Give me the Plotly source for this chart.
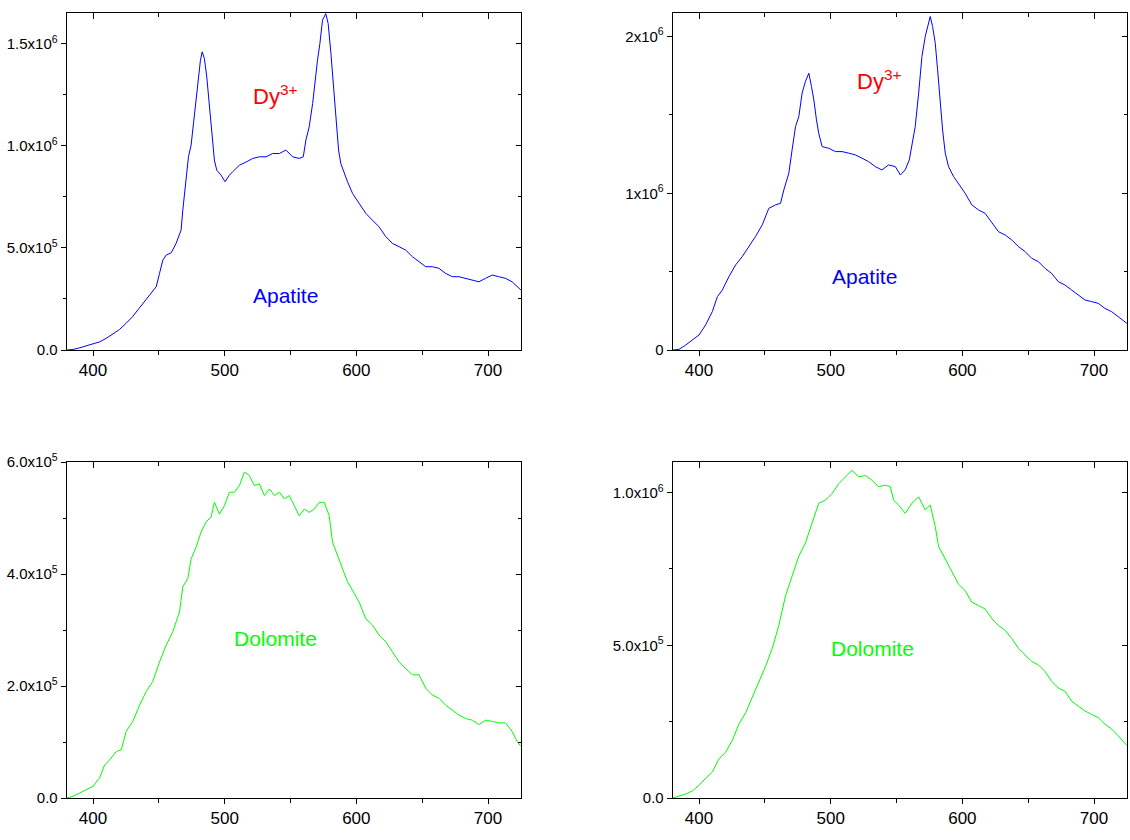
import plotly.graph_objects as go

FONT = "Liberation Sans, Arial, sans-serif"

# ---------------- data ----------------
# Top-left: Apatite, sample 1
apatite1_nm = [380, 385, 390, 395, 400, 405, 410, 415, 420, 425,
               430, 435, 440, 445, 448, 450.5, 453, 455.6, 459.4, 463.1,
               466.9, 468.2, 470.7, 472.5, 474.5, 476.5, 478.3, 480.1, 481.6, 482.9,
               484.6, 486.4, 488.4, 490.2, 492.2, 494, 497.3, 500.3, 503.6, 506.1,
               511.2, 516.2, 521.3, 526.3, 531.4, 536.4, 541.5, 546.5, 551.6, 556.6,
               559.7, 561.7, 564.2, 566.8, 568.8, 570.5, 572.3, 574.3, 576.8, 578.6,
               580.7, 582.4, 584.4, 586.5, 588.2, 590.8, 593.3, 597.1, 602.1, 607.2,
               612.2, 617.3, 622.4, 627.4, 632.5, 637.5, 642.6, 647.6, 652.7, 657.7,
               662.8, 667.8, 672.9, 677.9, 683, 688, 693.1, 698.1, 703.2, 708.2,
               713.3, 718.3, 722.1, 725]
apatite1_int = [0, 3e3, 1.1e4, 2.0e4, 2.8e4, 4.0e4, 5.7e4, 7.8e4, 1.0e5, 1.3e5,
                1.63e5, 2.04e5, 2.45e5, 2.85e5, 3.1e5, 3.75e5, 4.4e5, 4.65e5, 4.76e5, 5.22e5,
                5.87e5, 6.85e5, 8.48e5, 9.46e5, 1.003e6, 1.125e6, 1.207e6, 1.337e6, 1.419e6, 1.46e6,
                1.427e6, 1.337e6, 1.19e6, 1.044e6, 9.3e5, 8.8e5, 8.56e5, 8.24e5, 8.56e5, 8.73e5,
                9.05e5, 9.2e5, 9.38e5, 9.46e5, 9.46e5, 9.62e5, 9.62e5, 9.79e5, 9.46e5, 9.38e5,
                9.46e5, 1.028e6, 1.093e6, 1.207e6, 1.337e6, 1.419e6, 1.5e6, 1.615e6, 1.647e6, 1.598e6,
                1.452e6, 1.305e6, 1.142e6, 9.79e5, 9.13e5, 8.64e5, 8.24e5, 7.67e5, 7.18e5, 6.69e5,
                6.36e5, 6.03e5, 5.55e5, 5.22e5, 5.06e5, 4.89e5, 4.57e5, 4.32e5, 4.08e5, 4.08e5,
                4.0e5, 3.75e5, 3.59e5, 3.59e5, 3.51e5, 3.42e5, 3.34e5, 3.51e5, 3.67e5, 3.59e5,
                3.51e5, 3.34e5, 3.1e5, 2.94e5]

# Top-right: Apatite, sample 2
apatite2_nm = [380, 384.8, 389.9, 394.9, 400, 405, 410.1, 413.9, 417.7, 422.7,
               427.8, 432.8, 437.9, 442.9, 448, 453, 458.1, 461.9, 464.4, 468.2,
               470.7, 473.3, 475.8, 478.3, 480.8, 483.4, 485.4, 487.2, 489.2, 490.9,
               493.5, 498.5, 503.6, 508.6, 513.7, 518.7, 523.8, 528.8, 533.9, 538.9,
               544, 549.1, 552.9, 556.6, 559.7, 561.7, 564.2, 566.8, 569.3, 571.8,
               573.8, 575.6, 577.4, 579.4, 581.2, 583.2, 585, 587, 589.5, 593.3,
               597.1, 602.1, 607.2, 612.2, 617.3, 622.4, 627.4, 632.5, 637.5, 642.6,
               647.6, 652.7, 657.7, 662.8, 667.8, 672.9, 677.9, 683, 688, 693.1,
               698.1, 703.2, 708.2, 713.3, 718.3, 725]
apatite2_int = [0, 4e3, 3.2e4, 6.4e4, 9.6e4, 1.6e5, 2.45e5, 3.4e5, 3.83e5, 4.68e5,
                5.43e5, 5.96e5, 6.6e5, 7.24e5, 7.98e5, 9.04e5, 9.26e5, 9.36e5, 1.021e6, 1.128e6,
                1.277e6, 1.426e6, 1.49e6, 1.639e6, 1.713e6, 1.766e6, 1.681e6, 1.596e6, 1.468e6, 1.383e6,
                1.298e6, 1.287e6, 1.266e6, 1.266e6, 1.256e6, 1.245e6, 1.224e6, 1.202e6, 1.17e6, 1.149e6,
                1.181e6, 1.17e6, 1.117e6, 1.149e6, 1.213e6, 1.319e6, 1.426e6, 1.639e6, 1.873e6, 2.0e6,
                2.064e6, 2.128e6, 2.064e6, 1.958e6, 1.788e6, 1.575e6, 1.404e6, 1.256e6, 1.17e6, 1.107e6,
                1.064e6, 1.0e6, 9.26e5, 8.94e5, 8.72e5, 8.09e5, 7.55e5, 7.34e5, 7.02e5, 6.6e5,
                6.28e5, 5.85e5, 5.64e5, 5.21e5, 4.89e5, 4.36e5, 4.15e5, 3.83e5, 3.51e5, 3.19e5,
                3.09e5, 2.98e5, 2.66e5, 2.45e5, 2.13e5, 1.7e5]

# Bottom-left: Dolomite, sample 1
dolomite1_nm = [380, 384.8, 389.9, 394.9, 400, 405, 408.8, 412.6, 417.7, 421.5,
                425.2, 430.3, 435.4, 440.4, 445.4, 450.5, 455.6, 460.6, 465.7, 468.2,
                472, 474.5, 478.3, 482.1, 485.9, 489.7, 492.2, 496, 499.8, 503.6,
                507.4, 511.2, 515, 518.7, 522.5, 526.3, 530.2, 534, 537.8, 541.6,
                545.4, 549.1, 552.9, 556.6, 560.5, 564.2, 568.1, 571.8, 575.6, 579.4,
                581.9, 585.7, 589.5, 593.3, 597.1, 602.1, 607.2, 612.2, 617.3, 622.4,
                627.4, 632.5, 637.5, 642.6, 647.6, 652.7, 657.7, 662.8, 667.8, 672.9,
                677.9, 683, 688, 693.1, 698.1, 703.2, 708.2, 713.3, 718.3, 722.1,
                725]
dolomite1_int = [0, 3e3, 9e3, 1.5e4, 2.1e4, 3.6e4, 5.9e4, 6.8e4, 8.3e4, 8.6e4,
                 1.19e5, 1.37e5, 1.66e5, 1.9e5, 2.08e5, 2.43e5, 2.73e5, 2.97e5, 3.32e5, 3.77e5,
                 3.92e5, 4.27e5, 4.48e5, 4.75e5, 4.93e5, 5.02e5, 5.28e5, 5.07e5, 5.22e5, 5.46e5,
                 5.46e5, 5.58e5, 5.82e5, 5.76e5, 5.58e5, 5.61e5, 5.4e5, 5.52e5, 5.4e5, 5.46e5,
                 5.34e5, 5.4e5, 5.22e5, 5.04e5, 5.16e5, 5.1e5, 5.16e5, 5.28e5, 5.28e5, 5.04e5,
                 4.57e5, 4.33e5, 4.1e5, 3.86e5, 3.71e5, 3.5e5, 3.2e5, 3.09e5, 2.91e5, 2.79e5,
                 2.61e5, 2.43e5, 2.31e5, 2.2e5, 2.2e5, 1.96e5, 1.84e5, 1.78e5, 1.66e5, 1.57e5,
                 1.48e5, 1.42e5, 1.39e5, 1.31e5, 1.39e5, 1.37e5, 1.34e5, 1.34e5, 1.19e5, 1.01e5,
                 9.2e4]

# Bottom-right: Dolomite, sample 2
dolomite2_nm = [380, 384.8, 389.9, 394.9, 400, 405, 410.1, 415.1, 420.2, 425.2,
                430.3, 435.4, 440.4, 445.4, 450.5, 455.6, 460.6, 465.7, 470.7, 475.8,
                480.8, 485.9, 490.9, 496, 501.1, 506.1, 511.2, 516.2, 521.3, 526.3,
                531.4, 536.4, 541.5, 545.3, 547.8, 551.6, 556.6, 561.7, 566.8, 571.8,
                575.6, 579.4, 581.9, 585.7, 589.5, 593.3, 597.1, 602.1, 607.2, 612.2,
                617.3, 622.4, 627.4, 632.5, 637.5, 642.6, 647.6, 652.7, 657.7, 662.8,
                667.8, 672.9, 677.9, 683, 688, 693.1, 698.1, 703.2, 708.2, 713.3,
                718.3, 725]
dolomite2_int = [0, 6e3, 1.3e4, 2.3e4, 4.2e4, 6.4e4, 8.5e4, 1.28e5, 1.5e5, 1.88e5,
                 2.42e5, 2.79e5, 3.28e5, 3.82e5, 4.31e5, 4.9e5, 5.65e5, 6.62e5, 7.27e5, 7.92e5,
                 8.35e5, 9.0e5, 9.65e5, 9.75e5, 9.97e5, 1.029e6, 1.051e6, 1.073e6, 1.051e6, 1.056e6,
                 1.04e6, 1.019e6, 1.024e6, 1.019e6, 9.75e5, 9.59e5, 9.32e5, 9.65e5, 9.86e5, 9.43e5,
                 9.59e5, 8.89e5, 8.24e5, 7.92e5, 7.6e5, 7.27e5, 7.0e5, 6.79e5, 6.41e5, 6.3e5,
                 6.19e5, 5.87e5, 5.65e5, 5.49e5, 5.22e5, 4.9e5, 4.68e5, 4.47e5, 4.36e5, 4.14e5,
                 3.82e5, 3.6e5, 3.5e5, 3.17e5, 3.01e5, 2.85e5, 2.74e5, 2.63e5, 2.42e5, 2.26e5,
                 2.04e5, 1.72e5]

# tick labels
x_tickvals = [400, 500, 600, 700]
x_ticktext = ["400", "500", "600", "700"]
tl_tickvals = [0, 5e5, 1e6, 1.5e6]
tl_ticktext = ["0.0", "5.0x10<sup>5</sup>", "1.0x10<sup>6</sup>", "1.5x10<sup>6</sup>"]
tr_tickvals = [0, 1e6, 2e6]
tr_ticktext = ["0", "1x10<sup>6</sup>", "2x10<sup>6</sup>"]
bl_tickvals = [0, 2e5, 4e5, 6e5]
bl_ticktext = ["0.0", "2.0x10<sup>5</sup>", "4.0x10<sup>5</sup>", "6.0x10<sup>5</sup>"]
br_tickvals = [0, 5e5, 1e6]
br_ticktext = ["0.0", "5.0x10<sup>5</sup>", "1.0x10<sup>6</sup>"]

BLUE = "#0000ff"
GREEN = "#00ff00"
RED = "#ff0000"

panels = [
    # (x-id, y-id, xs, ys, color, xdomain, ydomain, yrange, tickvals, ticktext, minor dtick)
    ("", "", apatite1_nm, apatite1_int, BLUE, [0.059, 0.461], [0.5833, 0.9845], [0, 1.65e6], tl_tickvals, tl_ticktext, 2.5e5),
    ("2", "2", apatite2_nm, apatite2_int, BLUE, [0.5953, 0.9973], [0.5833, 0.9845], [0, 2.15e6], tr_tickvals, tr_ticktext, 5e5),
    ("3", "3", dolomite1_nm, dolomite1_int, GREEN, [0.059, 0.461], [0.05, 0.45], [0, 6.0e5], bl_tickvals, bl_ticktext, 1e5),
    ("4", "4", dolomite2_nm, dolomite2_int, GREEN, [0.5953, 0.9973], [0.05, 0.45], [0, 1.1e6], br_tickvals, br_ticktext, 2.5e5),
]

fig = go.Figure()
layout = {}
XRANGE = [380, 725]
for i, (xi, yi, xs, ys, col, xd, yd, yr, tv, tt, mdt) in enumerate(panels):
    ox = str(5 + i)
    fig.add_trace(go.Scatter(x=xs, y=ys, mode="lines", line=dict(color=col, width=1),
                             xaxis="x" + xi, yaxis="y" + yi, showlegend=False, hoverinfo="skip"))
    # invisible copies so that the mirrored tick axes (top / right) get drawn
    fig.add_trace(go.Scatter(x=xs, y=ys, mode="lines", line=dict(color=col, width=1), opacity=0,
                             xaxis="x" + ox, yaxis="y" + yi, showlegend=False, hoverinfo="skip"))
    fig.add_trace(go.Scatter(x=xs, y=ys, mode="lines", line=dict(color=col, width=1), opacity=0,
                             xaxis="x" + xi, yaxis="y" + ox, showlegend=False, hoverinfo="skip"))
    layout["xaxis" + xi] = dict(
        domain=xd, range=XRANGE, anchor="y" + yi, showline=True, linecolor="black", linewidth=1,
        mirror=True, ticks="outside", ticklen=5, tickcolor="black", tickwidth=1, automargin=False,
        tickmode="array", tickvals=x_tickvals, ticktext=x_ticktext,
        tickfont=dict(family=FONT, size=17, color="black"), showgrid=False, zeroline=False,
        minor=dict(ticks="outside", ticklen=4, tickcolor="black", tickwidth=1, dtick=50, tick0=0, showgrid=False),
    )
    layout["yaxis" + yi] = dict(
        domain=yd, range=yr, anchor="x" + xi, showline=True, linecolor="black", linewidth=1,
        mirror=True, ticks="outside", ticklen=5, tickcolor="black", tickwidth=1, automargin=False,
        tickmode="array", tickvals=tv, ticktext=tt,
        tickfont=dict(family=FONT, size=15, color="black"), showgrid=False, zeroline=False,
        minor=dict(ticks="outside", ticklen=3, tickcolor="black", tickwidth=1, dtick=mdt, tick0=0, showgrid=False),
    )
    # mirrored (inside-pointing) ticks on top and right
    layout["xaxis" + ox] = dict(
        overlaying="x" + xi, anchor="y" + yi, side="top", range=XRANGE, showline=False,
        ticks="inside", ticklen=6, tickcolor="black", tickwidth=1, automargin=False,
        tickmode="array", tickvals=x_tickvals, showticklabels=False, showgrid=False, zeroline=False,
        minor=dict(ticks="inside", ticklen=4, tickcolor="black", tickwidth=1, dtick=50, tick0=0, showgrid=False),
    )
    layout["yaxis" + ox] = dict(
        overlaying="y" + yi, anchor="x" + xi, side="right", range=yr, showline=False,
        ticks="inside", ticklen=5, tickcolor="black", tickwidth=1, automargin=False,
        tickmode="array", tickvals=tv, showticklabels=False, showgrid=False, zeroline=False,
        minor=dict(ticks="inside", ticklen=3, tickcolor="black", tickwidth=1, dtick=mdt, tick0=0, showgrid=False),
    )

annotations = [
    dict(x=538, y=1.25e6, xref="x", yref="y", text="Dy<sup>3+</sup>", font=dict(color=RED, size=22)),
    dict(x=546, y=2.65e5, xref="x", yref="y", text="Apatite", font=dict(color=BLUE, size=21)),
    dict(x=536.7, y=1.72e6, xref="x2", yref="y2", text="Dy<sup>3+</sup>", font=dict(color=RED, size=22)),
    dict(x=525.6, y=4.66e5, xref="x2", yref="y2", text="Apatite", font=dict(color=BLUE, size=21)),
    dict(x=538.8, y=2.84e5, xref="x3", yref="y3", text="Dolomite", font=dict(color=GREEN, size=21)),
    dict(x=531.8, y=4.88e5, xref="x4", yref="y4", text="Dolomite", font=dict(color=GREEN, size=21)),
]
for a in annotations:
    a["showarrow"] = False
    a["font"]["family"] = FONT

fig.update_layout(
    template="none",
    width=1130, height=840, margin=dict(l=0, r=0, t=0, b=0, pad=0),
    paper_bgcolor="white", plot_bgcolor="white",
    font=dict(family=FONT, color="black"),
    annotations=annotations, showlegend=False,
    **layout,
)
fig.write_html("out.html")
